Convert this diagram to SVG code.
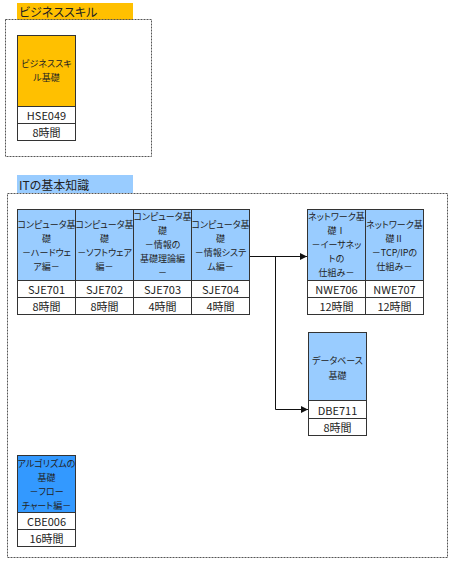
<svg xmlns="http://www.w3.org/2000/svg" width="458" height="563" viewBox="0 0 458 563">
<defs>
<style>
text{font-family:"Noto Sans CJK JP","Noto Sans",sans-serif;fill:#222;font-feature-settings:"palt";}
.t{font-size:9px;text-anchor:middle;dominant-baseline:central;}
.c{font-size:11px;text-anchor:middle;dominant-baseline:central;}
.lbl{font-size:12px;dominant-baseline:central;}
.box{stroke:#333;stroke-width:1;}
.or{fill:#FFC000;}
.lb{fill:#99CCFF;}
.db{fill:#3399FF;}
.w{fill:#fff;}
.cont{fill:none;stroke:#555;stroke-width:1;stroke-dasharray:2 1;}
.conn{fill:none;stroke:#111;stroke-width:1;}
</style>
<marker id="ah" viewBox="0 0 8 8" refX="8" refY="4" markerWidth="7" markerHeight="7" markerUnits="userSpaceOnUse" orient="auto">
<path d="M0,0 L8,4 L0,8 Z" fill="#111"/>
</marker>
</defs>
<rect width="458" height="563" fill="#fff"/>

<g id="group-business">
<rect x="17" y="3" width="116" height="17" class="or"/>
<text x="19" y="11.5" class="lbl">ビジネススキル</text>
<rect x="5.5" y="19.5" width="146" height="137" class="cont"/>
</g>

<g id="group-it">
<rect x="17" y="175" width="116" height="18" class="lb"/>
<text x="19" y="184" class="lbl">ITの基本知識</text>
<rect x="7.5" y="193.5" width="440" height="364" class="cont"/>
</g>

<g id="hse049">
<rect x="17.5" y="35.5" width="58" height="71" class="box or"/>
<rect x="17.5" y="106.5" width="58" height="17" class="box w"/>
<rect x="17.5" y="123.5" width="58" height="17" class="box w"/>
<text x="46.5" y="63" class="t">ビジネススキ</text>
<text x="46.5" y="77" class="t">ル基礎</text>
<text x="46.5" y="115" class="c">HSE049</text>
<text x="46.5" y="132" class="c">8時間</text>
</g>

<g id="sje701">
<rect x="17.5" y="209.5" width="58" height="71" class="box lb"/>
<rect x="17.5" y="280.5" width="58" height="17" class="box w"/>
<rect x="17.5" y="297.5" width="58" height="17" class="box w"/>
<text x="46.5" y="224" class="t">コンピュータ基</text>
<text x="46.5" y="238" class="t">礎</text>
<text x="46.5" y="252" class="t">－ハードウェ</text>
<text x="46.5" y="266" class="t">ア編－</text>
<text x="46.5" y="289" class="c">SJE701</text>
<text x="46.5" y="306" class="c">8時間</text>
</g>

<g id="sje702">
<rect x="75.5" y="209.5" width="58" height="71" class="box lb"/>
<rect x="75.5" y="280.5" width="58" height="17" class="box w"/>
<rect x="75.5" y="297.5" width="58" height="17" class="box w"/>
<text x="104.5" y="224" class="t">コンピュータ基</text>
<text x="104.5" y="238" class="t">礎</text>
<text x="104.5" y="252" class="t">－ソフトウェア</text>
<text x="104.5" y="266" class="t">編－</text>
<text x="104.5" y="289" class="c">SJE702</text>
<text x="104.5" y="306" class="c">8時間</text>
</g>

<g id="sje703">
<rect x="133.5" y="209.5" width="58" height="71" class="box lb"/>
<rect x="133.5" y="280.5" width="58" height="17" class="box w"/>
<rect x="133.5" y="297.5" width="58" height="17" class="box w"/>
<text x="162.5" y="216" class="t">コンピュータ基</text>
<text x="162.5" y="230" class="t">礎</text>
<text x="162.5" y="244" class="t">－情報の</text>
<text x="162.5" y="258" class="t">基礎理論編</text>
<text x="162.5" y="272" class="t">－</text>
<text x="162.5" y="289" class="c">SJE703</text>
<text x="162.5" y="306" class="c">4時間</text>
</g>

<g id="sje704">
<rect x="191.5" y="209.5" width="58" height="71" class="box lb"/>
<rect x="191.5" y="280.5" width="58" height="17" class="box w"/>
<rect x="191.5" y="297.5" width="58" height="17" class="box w"/>
<text x="220.5" y="224" class="t">コンピュータ基</text>
<text x="220.5" y="238" class="t">礎</text>
<text x="220.5" y="252" class="t">－情報システ</text>
<text x="220.5" y="266" class="t">ム編－</text>
<text x="220.5" y="289" class="c">SJE704</text>
<text x="220.5" y="306" class="c">4時間</text>
</g>

<g id="nwe706">
<rect x="307.5" y="209.5" width="58" height="71" class="box lb"/>
<rect x="307.5" y="280.5" width="58" height="17" class="box w"/>
<rect x="307.5" y="297.5" width="58" height="17" class="box w"/>
<text x="336.5" y="216" class="t">ネットワーク基</text>
<text x="336.5" y="230" class="t">礎Ⅰ</text>
<text x="336.5" y="244" class="t">－イーサネッ</text>
<text x="336.5" y="258" class="t">トの</text>
<text x="336.5" y="272" class="t">仕組み－</text>
<text x="336.5" y="289" class="c">NWE706</text>
<text x="336.5" y="306" class="c">12時間</text>
</g>

<g id="nwe707">
<rect x="365.5" y="209.5" width="58" height="71" class="box lb"/>
<rect x="365.5" y="280.5" width="58" height="17" class="box w"/>
<rect x="365.5" y="297.5" width="58" height="17" class="box w"/>
<text x="394.5" y="224" class="t">ネットワーク基</text>
<text x="394.5" y="238" class="t">礎Ⅱ</text>
<text x="394.5" y="252" class="t">－TCP/IPの</text>
<text x="394.5" y="266" class="t">仕組み－</text>
<text x="394.5" y="289" class="c">NWE707</text>
<text x="394.5" y="306" class="c">12時間</text>
</g>

<g id="dbe711">
<rect x="308.5" y="332.5" width="58" height="68" class="box lb"/>
<rect x="308.5" y="400.5" width="58" height="18" class="box w"/>
<rect x="308.5" y="418.5" width="58" height="17" class="box w"/>
<text x="337.5" y="360" class="t">データベース</text>
<text x="337.5" y="375" class="t">基礎</text>
<text x="337.5" y="409.5" class="c">DBE711</text>
<text x="337.5" y="427" class="c">8時間</text>
</g>

<g id="cbe006">
<rect x="17.5" y="455.5" width="58" height="57" class="box db"/>
<rect x="17.5" y="512.5" width="58" height="17" class="box w"/>
<rect x="17.5" y="529.5" width="58" height="17" class="box w"/>
<text x="46.5" y="463" class="t">アルゴリズムの</text>
<text x="46.5" y="477" class="t">基礎</text>
<text x="46.5" y="491" class="t">－フロー</text>
<text x="46.5" y="505" class="t">チャート編－</text>
<text x="46.5" y="521" class="c">CBE006</text>
<text x="46.5" y="538" class="c">16時間</text>
</g>

<g id="connectors">
<path d="M250,256.5 H307" class="conn" marker-end="url(#ah)"/>
<path d="M275.5,256.5 V409.5 H308" class="conn" marker-end="url(#ah)"/>
</g>
</svg>
